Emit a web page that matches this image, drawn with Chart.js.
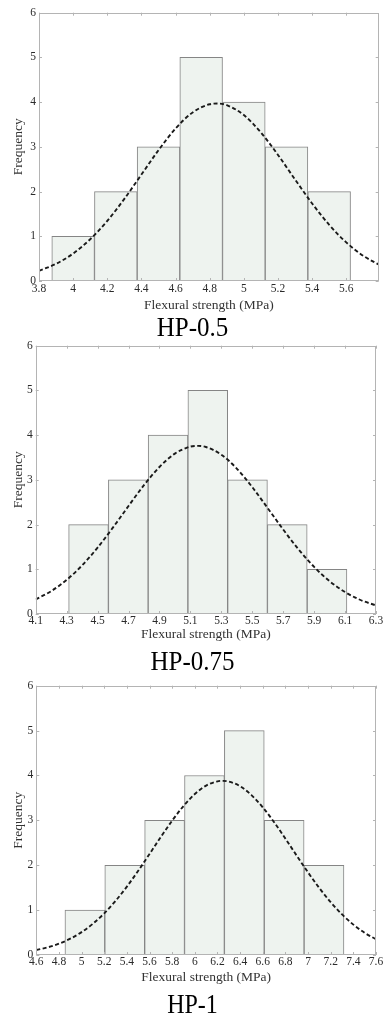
<!DOCTYPE html>
<html><head><meta charset="utf-8">
<script src="https://cdn.jsdelivr.net/npm/chart.js@4"></script>
<style>
body{margin:0;width:385px;height:1016px;background:#fff;position:relative;overflow:hidden;font-family:"Liberation Serif","Times New Roman",serif}
.p{position:absolute;left:0;width:385px}
.cap{position:absolute;left:0;width:385px;text-align:center;font-size:25px;line-height:25px;color:#000;transform:scaleY(1.12)}
</style></head>
<body>
<div class="p" style="top:0;height:314px"><canvas id="c1"></canvas></div>
<div class="cap" style="top:314px">HP-0.5</div>
<div class="p" style="top:330px;height:313px"><canvas id="c2"></canvas></div>
<div class="cap" style="top:648px">HP-0.75</div>
<div class="p" style="top:670px;height:316px"><canvas id="c3"></canvas></div>
<div class="cap" style="top:992px;font-size:24px">HP-1</div>
<script>
// ---- HP-0.5 ----
const binEdges1 = [3.875, 4.125, 4.375, 4.625, 4.875, 5.125, 5.375, 5.625];
const counts1 = [1, 2, 3, 5, 4, 3, 2];
const xTicks1 = [3.8, 4, 4.2, 4.4, 4.6, 4.8, 5, 5.2, 5.4, 5.6];
const xRange1 = [3.8, 5.79];
const curveX1 = [3.8, 3.9, 4.0, 4.1, 4.2, 4.3, 4.4, 4.5, 4.6, 4.7, 4.8, 4.85, 4.9, 5.0, 5.1, 5.2, 5.3, 5.4, 5.5, 5.6, 5.7, 5.8];
const curveY1 = [0.228, 0.384, 0.615, 0.934, 1.345, 1.837, 2.380, 2.925, 3.409, 3.770, 3.953, 3.969, 3.932, 3.710, 3.320, 2.819, 2.270, 1.733, 1.256, 0.863, 0.563, 0.348];

// ---- HP-0.75 ----
const binEdges2 = [4.313, 4.570, 4.827, 5.084, 5.341, 5.598, 5.855, 6.112];
const counts2 = [2, 3, 4, 5, 3, 2, 1];
const xTicks2 = [4.1, 4.3, 4.5, 4.7, 4.9, 5.1, 5.3, 5.5, 5.7, 5.9, 6.1, 6.3];
const xRange2 = [4.1, 6.3];
const curveX2 = [4.1, 4.2, 4.3, 4.4, 4.5, 4.6, 4.7, 4.8, 4.9, 5.0, 5.1, 5.15, 5.2, 5.3, 5.4, 5.5, 5.6, 5.7, 5.8, 5.9, 6.0, 6.1, 6.2, 6.3];
const curveY2 = [0.327, 0.511, 0.762, 1.088, 1.484, 1.936, 2.415, 2.882, 3.288, 3.587, 3.743, 3.760, 3.734, 3.563, 3.252, 2.837, 2.367, 1.889, 1.442, 1.052, 0.734, 0.490, 0.313, 0.191];

// ---- HP-1 ----
const binEdges3 = [4.853, 5.205, 5.557, 5.909, 6.261, 6.613, 6.965, 7.317];
const counts3 = [1, 2, 3, 4, 5, 3, 2];
const xTicks3 = [4.6, 4.8, 5, 5.2, 5.4, 5.6, 5.8, 6, 6.2, 6.4, 6.6, 6.8, 7, 7.2, 7.4, 7.6];
const xRange3 = [4.6, 7.6];
const curveX3 = [4.6, 4.7, 4.8, 4.9, 5.0, 5.1, 5.2, 5.3, 5.4, 5.5, 5.6, 5.7, 5.8, 5.9, 6.0, 6.1, 6.2, 6.25, 6.3, 6.4, 6.5, 6.6, 6.7, 6.8, 6.9, 7.0, 7.1, 7.2, 7.3, 7.4, 7.5, 7.6];
const curveY3 = [0.112, 0.170, 0.252, 0.363, 0.510, 0.697, 0.929, 1.205, 1.524, 1.876, 2.251, 2.630, 2.994, 3.320, 3.587, 3.775, 3.870, 3.880, 3.864, 3.760, 3.563, 3.290, 2.959, 2.593, 2.212, 1.840, 1.490, 1.176, 0.904, 0.677, 0.494, 0.351];

const yTicks = [0, 1, 2, 3, 4, 5, 6];
const xTitle = 'Flexural strength (MPa)';
const yTitle = 'Frequency';

const framePlugin = {
  id: 'frame',
  afterDatasetsDraw(chart) {
    const {ctx, chartArea: a, scales: {x, y}} = chart;
    ctx.save();
    ctx.strokeStyle = '#b4b4b4';
    ctx.lineWidth = 1;
    ctx.strokeRect(Math.round(a.left) + 0.5, Math.round(a.top) + 0.5, Math.round(a.width) - 1, Math.round(a.height) - 1);
    ctx.beginPath();
    x.ticks.forEach(t => {
      const px = Math.round(x.getPixelForValue(t.value)) + 0.5;
      ctx.moveTo(px, a.bottom); ctx.lineTo(px, a.bottom - 3);
      ctx.moveTo(px, a.top); ctx.lineTo(px, a.top + 3);
    });
    y.ticks.forEach(t => {
      const py = Math.round(y.getPixelForValue(t.value)) + 0.5;
      ctx.moveTo(a.left, py); ctx.lineTo(a.left + 3, py);
      ctx.moveTo(a.right, py); ctx.lineTo(a.right - 3, py);
    });
    ctx.stroke();
    ctx.restore();
  }
};

function makeChart(id, edges, counts, xTicks, xRange, cx, cy, g) {
  const centers = counts.map((c, i) => (edges[i] + edges[i + 1]) / 2);
  const bars = counts.map((c, i) => ({x: centers[i], y: c}));
  const curve = cx.map((v, i) => ({x: v, y: cy[i]}));
  const noGrid = {display: false, drawTicks: false, tickLength: 0};
  return new Chart(document.getElementById(id), {
    type: 'bar',
    data: {
      datasets: [
        {type: 'line', data: curve, xAxisID: 'x', borderColor: '#1a1a1a', borderWidth: 1.9, borderDash: [4, 2.5],
         pointRadius: 0, fill: false, cubicInterpolationMode: 'monotone', order: 0},
        {type: 'bar', data: bars, xAxisID: 'xb', backgroundColor: '#eef3ef', borderColor: '#858585', borderWidth: 1,
         borderSkipped: false, barPercentage: 1, categoryPercentage: 1, grouped: false, order: 1}
      ]
    },
    options: {
      responsive: true, maintainAspectRatio: false, animation: false,
      layout: {padding: {top: g.top, right: g.right, left: 0, bottom: 0}},
      plugins: {legend: {display: false}, tooltip: {enabled: false}},
      scales: {
        x: {
          type: 'linear', position: 'bottom', min: xRange[0], max: xRange[1], offset: false,
          grid: noGrid, border: {display: false},
          afterBuildTicks: s => { s.ticks = xTicks.map(v => ({value: v})); },
          afterFit: s => { s.height = g.xh; },
          ticks: {autoSkip: false, maxRotation: 0, padding: g.tp, color: '#2a2a2a',
                  font: {family: 'Liberation Serif', size: 11.5}, callback: v => String(v)},
          title: {display: true, text: xTitle, color: '#333', padding: 0,
                  font: {family: 'Liberation Serif', size: 13.5}}
        },
        xb: {
          type: 'linear', position: 'bottom', display: false, min: xRange[0], max: xRange[1], offset: false,
          grid: noGrid,
          afterBuildTicks: s => { s.ticks = centers.map(v => ({value: v})); }
        },
        y: {
          min: 0, max: 6,
          grid: noGrid, border: {display: false},
          afterBuildTicks: s => { s.ticks = yTicks.map(v => ({value: v})); },
          afterFit: s => { s.width = g.yw; },
          ticks: {padding: 3, color: '#2a2a2a', font: {family: 'Liberation Serif', size: 11.5}},
          title: {display: true, text: yTitle, color: '#333', padding: {top: 10.6, bottom: 0},
                  font: {family: 'Liberation Serif', size: 13.5}}
        }
      }
    },
    plugins: [framePlugin]
  });
}

makeChart('c1', binEdges1, counts1, xTicks1, xRange1, curveX1, curveY1, {top: 12.7, right: 6.3, yw: 39, xh: 33, tp: 1.5});
makeChart('c2', binEdges2, counts2, xTicks2, xRange2, curveX2, curveY2, {top: 15.7, right: 9, yw: 35.7, xh: 29, tp: 0.5});
makeChart('c3', binEdges3, counts3, xTicks3, xRange3, curveX3, curveY3, {top: 15.7, right: 9, yw: 36.3, xh: 31, tp: 0});
</script>
</body></html>
